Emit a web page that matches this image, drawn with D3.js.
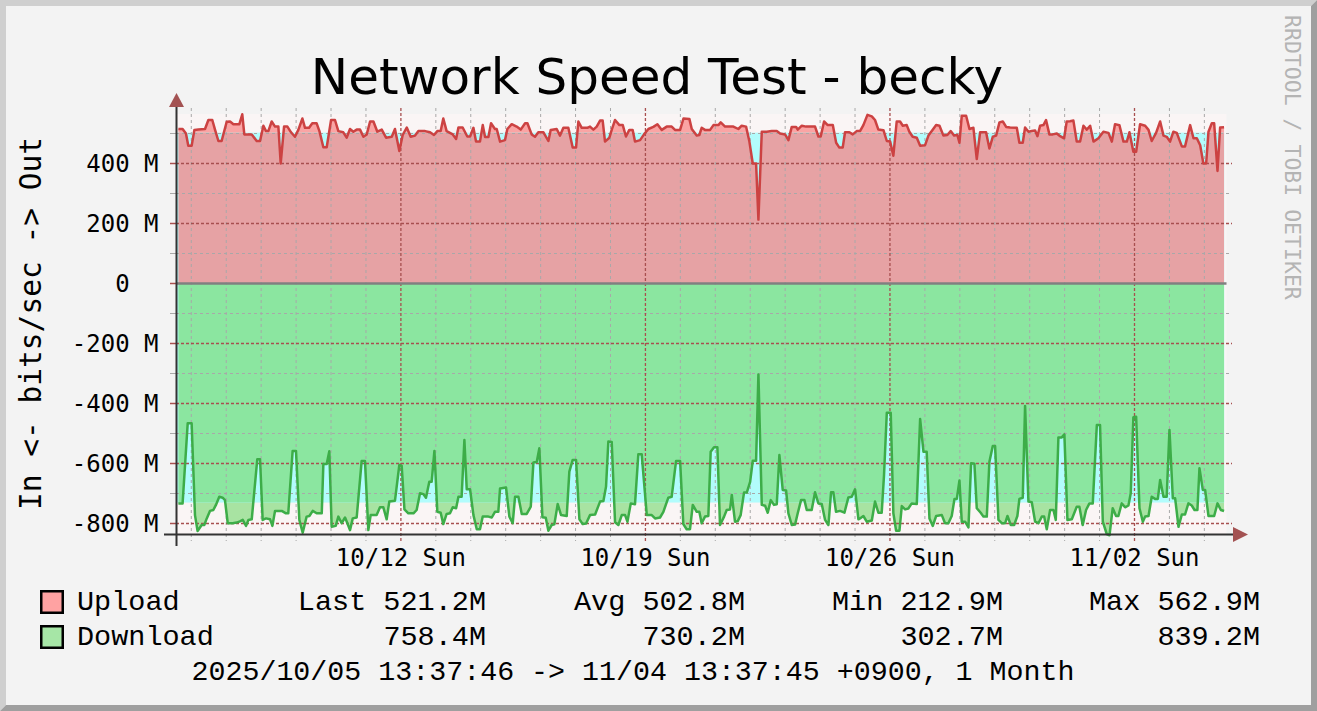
<!DOCTYPE html>
<html>
<head>
<meta charset="utf-8">
<script src="https://cdn.jsdelivr.net/npm/d3@7"></script>
<style>
  html, body { margin: 0; padding: 0; background: #F3F3F3; }
  svg { display: block; }
</style>
</head>
<body>
<svg id="chart" width="1317" height="711"></svg>
<script>
// ---------------- DATA ----------------
const chartTitle = "Network Speed Test - becky";
const yAxisTitle = "In <- bits/sec -> Out";
const watermark = "RRDTOOL / TOBI OETIKER";
const periodLabel = "2025/10/05 13:37:46 -> 11/04 13:37:45 +0900, 1 Month";
// start time (wall clock, +0900) and span in hours
const startStamp = [2025, 9, 5, 13, 37, 46];
const spanHours = 720;

const seriesNames = ["Upload", "Download"];
const statLabels = ["Last", "Avg", "Min", "Max"];
const uploadStats = ["521.2M", "502.8M", "212.9M", "562.9M"];
const downloadStats = ["758.4M", "730.2M", "302.7M", "839.2M"];
const uploadAvg = 502.8;     // M bits/sec
const downloadAvg = 730.2;   // M bits/sec

const yMajorTicks = [-800, -600, -400, -200, 0, 200, 400];
const yMinorTicks = [-700, -500, -300, -100, 100, 300, 500];
const yTickLabels = ["-800 M", "-600 M", "-400 M", "-200 M", "0", "200 M", "400 M"];

// [hours since start, Mbit/s]
const uploadSeries = [
[1.5,515],[4.4,515],[6.7,500],[8.3,459],[10.6,459],[12.5,512],[15.2,513],[19.8,515],[22.1,545],[24.8,545],
[26.7,512],[29.0,475],[31.2,475],[34.7,539],[37.0,540],[39.3,531],[43.4,531],[45.4,564],[46.8,497],[51.9,497],
[55.3,475],[57.6,475],[59.9,526],[61.7,508],[63.3,508],[65.6,540],[67.9,523],[70.2,523],[71.8,400],[74.1,523],
[76.4,523],[78.9,504],[81.6,489],[83.9,512],[86.7,550],[88.5,519],[91.3,519],[93.5,534],[96.5,534],[98.4,508],
[101.1,454],[103.4,454],[106.4,545],[109.1,545],[111.4,508],[114.8,504],[117.1,486],[119.4,515],[121.7,506],[124.0,513],
[126.3,513],[128.6,489],[130.9,497],[133.2,540],[135.5,540],[138.2,506],[141.2,513],[144.2,486],[148.1,489],[150.3,515],
[153.3,442],[155.6,495],[158.4,520],[161.1,489],[164.1,493],[166.4,508],[171.0,508],[174.4,504],[177.1,495],[179.4,508],
[181.7,508],[183.5,550],[185.8,508],[190.0,497],[192.3,482],[193.9,520],[196.8,520],[200.0,490],[201.9,490],[204.2,519],
[206.0,473],[208.7,473],[210.6,528],[212.2,488],[214.5,488],[216.3,534],[219.0,515],[220.2,515],
[222.5,473],[225.9,478],[227.5,515],[230.5,531],[233.9,523],[236.7,513],[239.7,534],[241.3,534],[244.2,497],[246.5,489],
[248.8,504],[252.3,504],[255.7,475],[257.3,512],[261.4,515],[263.7,493],[266.0,519],[269.4,519],[272.4,453],[274.7,453],
[276.3,540],[278.6,519],[282.5,519],[284.3,523],[286.6,513],[288.9,523],[291.2,543],[293.0,543],[294.6,473],[297.6,486],
[299.2,512],[301.5,545],[304.5,528],[306.8,528],[309.0,490],[311.3,512],[313.6,512],[315.2,473],[318.7,478],[321.4,497],
[324.4,515],[327.8,522],[330.6,531],[333.6,512],[337.0,523],[340.4,523],[342.7,512],[346.2,512],[348.5,550],[352.6,548],
[354.2,515],[357.6,493],[359.4,495],[361.0,519],[363.3,512],[366.8,512],[369.1,528],[372.5,528],[374.1,537],[377.1,523],
[382.8,523],[386.2,515],[388.5,526],[391.5,523],[393.8,473],[396.1,400],[398.4,400],[400.0,213],[402.3,506],[405.7,506],
[409.1,508],[412.6,508],[414.9,500],[418.3,497],[420.6,478],[422.9,522],[425.9,522],[427.0,513],[429.8,526],[432.7,523],
[438.9,523],[441.2,490],[442.8,490],[445.1,540],[447.6,528],[451.1,528],[453.4,469],[455.6,453],[457.9,453],[459.5,504],
[462.5,504],[464.8,497],[467.5,508],
[469.8,508],[472.1,528],[474.9,562],[477.9,557],[480.1,545],[482.4,513],[485.9,511],[488.2,475],[490.5,473],[492.7,426],
[495.0,540],[497.3,540],[499.2,526],[501.9,528],[503.7,506],[506.0,489],[508.8,486],[511.1,459],[514.5,461],[516.8,493],
[519.1,508],[522.1,528],[524.4,526],[527.1,493],[529.8,495],[532.1,508],[534.4,493],[536.7,495],[538.1,469],[539.7,559],
[542.7,559],[545.0,515],[547.7,519],[550.0,415],[552.3,504],[556.4,504],[558.7,450],[561.0,489],[563.3,493],[565.6,537],
[567.9,540],[570.2,522],[572.9,520],[577.5,519],[579.3,469],[581.6,469],[583.2,520],[585.5,506],[587.8,508],[590.1,510],
[591.7,491],[593.5,526],[595.8,528],[597.6,545],[599.9,497],[602.2,497],[605.0,500],[607.3,491],[610.0,484],[611.8,540],
[614.1,541],[616.4,543],[618.7,473],[621.0,473],[623.3,526],[625.6,513],[627.9,526],[630.2,473],[633.6,484],[637.0,506],
[640.5,502],[642.8,473],[645.0,531],[648.0,528],[650.8,473],[653.1,473],[654.9,504],[657.6,439],[659.5,439],[662.2,531],
[665.7,526],[668.0,512],[670.2,475],[673.2,502],[676.0,540],[678.3,493],[680.5,489],[682.8,473],[685.1,506],[687.4,502],
[690.9,457],[693.1,457],[696.6,528],[698.9,484],[701.2,484],[703.5,461],[705.7,400],[707.6,400],[709.2,506],[711.5,534],
[713.1,534],[715.4,375],[717.2,520],[719.9,521.2]
];

const downloadSeries = [
[1.5,733],[4.4,733],[7.9,466],[10.6,466],[12.9,772],[14.7,825],[17.5,805],[19.3,805],[21.0,783],[23.2,758],
[25.5,755],[27.3,738],[29.6,711],[31.9,714],[33.5,722],[35.4,799],[38.8,799],[41.5,797],[43.8,793],[45.7,788],
[48.0,808],[49.6,788],[51.9,786],[55.7,586],[57.6,586],[59.4,788],[61.7,783],[64.5,786],[66.1,808],[67.9,758],
[72.5,758],[75.4,766],[77.0,766],[80.0,558],[82.3,558],[84.6,788],[86.9,831],[89.6,777],[91.5,775],[93.8,758],
[96.5,766],[100.0,766],[101.1,602],[103.4,602],[105.2,559],[106.8,811],[109.6,808],[111.4,777],[113.7,799],[116.0,780],
[117.6,799],[119.4,822],[121.3,783],[124.0,780],[127.4,592],[129.7,592],[132.0,822],[133.6,772],[137.7,772],[140.0,746],
[142.3,746],[144.6,786],[146.4,727],[150.3,724],[153.3,605],[154.9,607],[156.8,753],[159.5,766],[163.0,766],[165.2,755],
[167.5,699],[169.8,702],[171.6,714],[173.9,661],[175.5,661],[177.4,558],[179.4,761],[181.7,764],[183.5,802],[185.8,768],
[188.1,766],[190.0,746],[192.3,749],[193.9,711],[196.1,711],[198.0,522],[199.6,686],[201.9,686],[204.2,772],[206.5,819],
[208.7,819],[210.6,777],[214.5,777],[216.8,780],[219.0,761],[221.3,761],
[222.5,683],[226.6,680],[228.9,777],[231.2,799],[232.8,711],[235.1,711],[237.4,768],[240.8,768],[243.6,744],[245.4,597],
[247.7,595],[249.5,549],[251.6,779],[253.9,781],[255.7,824],[258.0,805],[259.8,803],[262.1,735],[264.4,772],[268.3,775],
[270.1,627],[272.4,588],[274.7,588],[277.0,786],[279.3,802],[281.6,800],[284.3,772],[287.8,770],[291.2,727],[293.5,725],
[295.3,677],[296.9,527],[299.2,528],[301.5,796],[303.8,805],[306.1,772],[308.4,772],[310.0,794],[312.3,733],[315.2,736],
[317.5,569],[319.8,569],[323.3,772],[326.7,772],[329.0,783],[332.4,780],[334.7,761],[338.1,714],[340.4,711],[343.4,592],
[346.2,592],[348.4,802],[350.7,819],[353.0,819],[354.9,738],[357.6,761],[359.4,761],[361.0,799],[363.3,777],[365.6,775],
[367.2,561],[369.5,546],[371.8,546],[373.6,805],[376.4,777],[378.2,755],[380.5,753],[381.7,705],[383.9,794],[385.8,792],
[387.8,772],[390.1,697],[392.0,697],[394.3,661],[396.1,591],[398.4,591],[400.0,303],[402.3,738],[404.6,741],[406.4,764],
[408.5,722],[410.7,738],[412.6,736],[414.4,572],[416.7,688],[419.0,690],[420.6,766],[422.9,805],[425.2,803],[427.0,766],
[429.3,722],[431.6,722],[433.2,755],[436.6,755],[438.9,696],[441.2,733],[443.5,735],[445.8,788],[448.1,805],[449.9,696],
[451.5,696],[453.3,761],[456.1,758],[459.1,764],[461.8,713],[464.1,711],[466.4,686],[468.7,786],
[469.8,783],[472.1,775],[474.4,794],[477.9,790],[480.1,727],[482.4,764],[484.7,764],[486.3,638],[488.2,431],[490.9,431],
[492.7,766],[494.6,824],[496.9,824],[498.5,742],[500.8,753],[503.0,750],[505.3,733],[508.8,735],[511.1,452],[513.4,561],
[515.6,561],[517.5,783],[519.8,808],[522.1,775],[526.0,772],[528.2,799],[530.5,799],[532.8,775],[534.7,718],[536.3,718],
[538.1,657],[539.7,794],[542.0,794],[544.3,813],[546.1,599],[548.4,601],[550.0,749],[552.7,764],[554.6,777],[556.9,777],
[558.7,594],[561.0,542],[562.6,542],[564.9,788],[567.2,799],[569.5,799],[571.1,775],[573.4,805],[575.7,805],[577.9,775],
[579.3,718],[581.6,714],[583.2,408],[585.5,727],[587.8,729],[590.1,794],[592.4,799],[594.7,777],[596.3,777],[598.1,819],
[600.4,755],[602.7,755],[604.3,788],[606.1,513],[608.4,513],[610.2,503],[612.3,788],[615.3,786],[618.7,744],[620.5,744],
[622.8,805],[625.1,755],[627.4,733],[629.7,733],[632.5,472],[634.7,472],[636.6,794],[639.3,835],[641.2,839.2],[643.4,749],
[645.7,775],[647.3,775],[649.6,733],[651.9,746],[654.2,740],[655.8,699],[657.6,446],[659.5,444],[661.8,749],[664.1,794],
[665.7,777],[668.0,775],[670.2,711],[672.5,718],[674.4,718],[676.0,655],[678.3,711],[680.5,711],[682.4,488],[684.7,716],
[686.3,716],[688.6,811],[690.9,770],[693.1,770],[695.4,733],[697.7,740],[699.6,755],[701.6,755],[703.0,616],[705.3,688],
[706.9,688],[709.2,775],[713.1,775],[715.4,733],[717.7,755],[719.9,758.4]
];

// ---------------- STYLE ----------------
const C = {
  bg: "#F3F3F3", canvas: "#FAF5F5",
  frameLight: "#CFCFCF", frameDark: "#9F9F9F",
  upOuter: "#FAA4A4", upInner: "#E6A2A4", upLine: "#CC4242",
  dnOuter: "#A8E3A2", dnInner: "#8BE6A0", dnLine: "#3DAD48",
  avg: "#B2FCFC",
  grid: "#A8A8A8", mgrid: "#A84F4F", axis: "#333333", arrow: "#A35252",
  zero: "#808080", text: "#000000", wm: "#B4B4B4"
};
const monoSans = "'DejaVu Sans Mono', monospace";
const monoSerif = "'Liberation Mono', 'Courier New', monospace";

const W = 1317, H = 711;
const svg = d3.select("#chart");

// background + bevel frame
svg.append("rect").attr("width", W).attr("height", H).attr("fill", C.bg);
const b = 6;
svg.append("polygon").attr("fill", C.frameLight)
  .attr("points", [[0,0],[W,0],[W-b,b],[b,b],[b,H-b],[0,H]].join(" "));
svg.append("polygon").attr("fill", C.frameDark)
  .attr("points", [[W,0],[W,H],[0,H],[b,H-b],[W-b,H-b],[W-b,b]].join(" "));

// scales
const t0 = Date.UTC(startStamp[0], startStamp[1], startStamp[2], startStamp[3], startStamp[4], startStamp[5]);
const toDate = h => new Date(t0 + h * 3600e3);
const x = d3.scaleUtc().domain([toDate(0), toDate(spanHours)]).range([176.2, 1224.2]);
const y = d3.scaleLinear().domain([-840, 565]).range([535.5, 114]);

const canvasL = 176, canvasR = 1226.5;
svg.append("rect").attr("x", canvasL).attr("y", y(565)).attr("width", canvasR - canvasL)
  .attr("height", y(-840) - y(565)).attr("fill", C.canvas);

const up = uploadSeries.map(d => ({t: toDate(d[0]), v: d[1]}));
const dn = downloadSeries.map(d => ({t: toDate(d[0]), v: -d[1]}));

const area = d3.area().x(d => x(d.t)).y0(y(0)).y1(d => y(d.v));
const line = d3.line().x(d => x(d.t)).y(d => y(d.v));

const defs = svg.append("defs");
defs.append("clipPath").attr("id", "clipUp").append("rect")
  .attr("x", x(toDate(0))).attr("width", x(toDate(spanHours)) - x(toDate(0)))
  .attr("y", y(uploadAvg)).attr("height", y(0) - y(uploadAvg));
defs.append("clipPath").attr("id", "clipDn").append("rect")
  .attr("x", x(toDate(0))).attr("width", x(toDate(spanHours)) - x(toDate(0)))
  .attr("y", y(0)).attr("height", y(-downloadAvg) - y(0));

// outer areas
svg.append("path").datum(up).attr("d", area).attr("fill", C.upOuter);
svg.append("path").datum(dn).attr("d", area).attr("fill", C.dnOuter);
// average bands
svg.append("rect").attr("x", x(toDate(0))).attr("width", x(toDate(spanHours)) - x(toDate(0)))
  .attr("y", y(uploadAvg)).attr("height", y(0) - y(uploadAvg)).attr("fill", C.avg);
svg.append("rect").attr("x", x(toDate(0))).attr("width", x(toDate(spanHours)) - x(toDate(0)))
  .attr("y", y(0)).attr("height", y(-downloadAvg) - y(0)).attr("fill", C.avg);
// inner (overlap) areas
svg.append("path").datum(up).attr("d", area).attr("fill", C.upInner).attr("clip-path", "url(#clipUp)");
svg.append("path").datum(dn).attr("d", area).attr("fill", C.dnInner).attr("clip-path", "url(#clipDn)");

// grid
const gx0 = 170, gx1 = 1232, gy0 = 108, gy1 = 541;
const days = d3.utcDay.range(toDate(0), toDate(spanHours));
const majorDays = d3.utcSunday.range(toDate(0), toDate(spanHours));
const isMajor = d => majorDays.some(m => +m === +d);
const g = svg.append("g");
days.filter(d => !isMajor(d)).forEach(d => {
  g.append("line").attr("x1", x(d)).attr("x2", x(d)).attr("y1", gy0).attr("y2", gy1)
    .attr("stroke", C.grid).attr("stroke-width", 1).attr("stroke-dasharray", "3,3");
});
yMinorTicks.forEach(v => {
  g.append("line").attr("x1", 176).attr("x2", gx1).attr("y1", y(v)).attr("y2", y(v))
    .attr("stroke", C.grid).attr("stroke-width", 1).attr("stroke-dasharray", "3,3");
  g.append("line").attr("x1", gx0).attr("x2", 176).attr("y1", y(v)).attr("y2", y(v))
    .attr("stroke", C.grid).attr("stroke-width", 1);
});
majorDays.forEach(d => {
  g.append("line").attr("x1", x(d)).attr("x2", x(d)).attr("y1", gy0).attr("y2", gy1)
    .attr("stroke", C.mgrid).attr("stroke-width", 1.3).attr("stroke-dasharray", "3,2");
});
yMajorTicks.filter(v => v !== 0).forEach(v => {
  g.append("line").attr("x1", 176).attr("x2", gx1).attr("y1", y(v)).attr("y2", y(v))
    .attr("stroke", C.mgrid).attr("stroke-width", 1.3).attr("stroke-dasharray", "3,2");
});
yMajorTicks.forEach(v => {
  g.append("line").attr("x1", gx0).attr("x2", 176).attr("y1", y(v)).attr("y2", y(v))
    .attr("stroke", C.mgrid).attr("stroke-width", 1.5);
});

// data lines
svg.append("path").datum(up).attr("d", line).attr("fill", "none")
  .attr("stroke", C.upLine).attr("stroke-width", 2.5).attr("stroke-linejoin", "round");
svg.append("path").datum(dn).attr("d", line).attr("fill", "none")
  .attr("stroke", C.dnLine).attr("stroke-width", 2.5).attr("stroke-linejoin", "round");

// zero line
svg.append("line").attr("x1", 176).attr("x2", canvasR).attr("y1", y(0)).attr("y2", y(0))
  .attr("stroke", C.zero).attr("stroke-width", 2.5);

// axes
svg.append("line").attr("x1", 176.5).attr("x2", 176.5).attr("y1", 106).attr("y2", 546)
  .attr("stroke", C.axis).attr("stroke-width", 2);
svg.append("line").attr("x1", 164).attr("x2", 1234).attr("y1", 534.5).attr("y2", 534.5)
  .attr("stroke", C.axis).attr("stroke-width", 2);
svg.append("polygon").attr("fill", C.arrow).attr("points", "169,107 184,107 176.5,93");
svg.append("polygon").attr("fill", C.arrow).attr("points", "1233,527 1233,542 1248,534.5");

// y labels
const charW = 24 * 0.602;
yMajorTicks.forEach((v, i) => {
  const lbl = yTickLabels[i];
  svg.append("text").attr("x", lbl === "0" ? 158.5 - 2 * charW : 158.5).attr("y", y(v) + 8.7)
    .attr("text-anchor", "end").attr("font-family", monoSans).attr("font-size", 24)
    .attr("fill", C.text).text(lbl);
});
// x labels
const fmt = d3.utcFormat("%m/%d %a");
majorDays.forEach(d => {
  svg.append("text").attr("x", x(d)).attr("y", 566).attr("text-anchor", "middle")
    .attr("font-family", monoSans).attr("font-size", 24).attr("fill", C.text).text(fmt(d));
});

// axis title
svg.append("text").attr("transform", "translate(41,323.5) rotate(-90)")
  .attr("text-anchor", "middle").attr("font-family", monoSans).attr("font-size", 29.5)
  .attr("fill", C.text).text(yAxisTitle);

// chart title
svg.append("text").attr("x", 657).attr("y", 94).attr("text-anchor", "middle")
  .attr("font-family", "'DejaVu Sans', sans-serif").attr("font-size", 50)
  .attr("fill", C.text).text(chartTitle);

// watermark
svg.append("text").attr("transform", "translate(1285,15) rotate(90)")
  .attr("font-family", monoSans).attr("font-size", 21.5).attr("fill", C.wm).text(watermark);

// legend
const legendRows = [
  {name: seriesNames[0], stats: uploadStats, fill: "#FFA2A2", labels: true, yb: 610},
  {name: seriesNames[1], stats: downloadStats, fill: "#A6E6A6", labels: false, yb: 645}
];
const statRight = [486, 745, 1003, 1260];
legendRows.forEach(r => {
  svg.append("rect").attr("x", 41.25).attr("y", r.yb - 18.75).attr("width", 21.5).attr("height", 21.5)
    .attr("fill", r.fill).attr("stroke", "#000").attr("stroke-width", 2.5);
  svg.append("text").attr("x", 77).attr("y", r.yb).attr("font-family", monoSerif)
    .attr("font-size", 28.5).attr("fill", C.text).text(r.name);
  r.stats.forEach((s, i) => {
    svg.append("text").attr("x", statRight[i]).attr("y", r.yb).attr("text-anchor", "end")
      .attr("font-family", monoSerif).attr("font-size", 28.5).attr("fill", C.text)
      .attr("xml:space", "preserve")
      .text(r.labels ? statLabels[i] + " " + s : s);
  });
});
svg.append("text").attr("x", 633).attr("y", 680).attr("text-anchor", "middle")
  .attr("font-family", monoSerif).attr("font-size", 28.3).attr("fill", C.text).text(periodLabel);
</script>
</body>
</html>
